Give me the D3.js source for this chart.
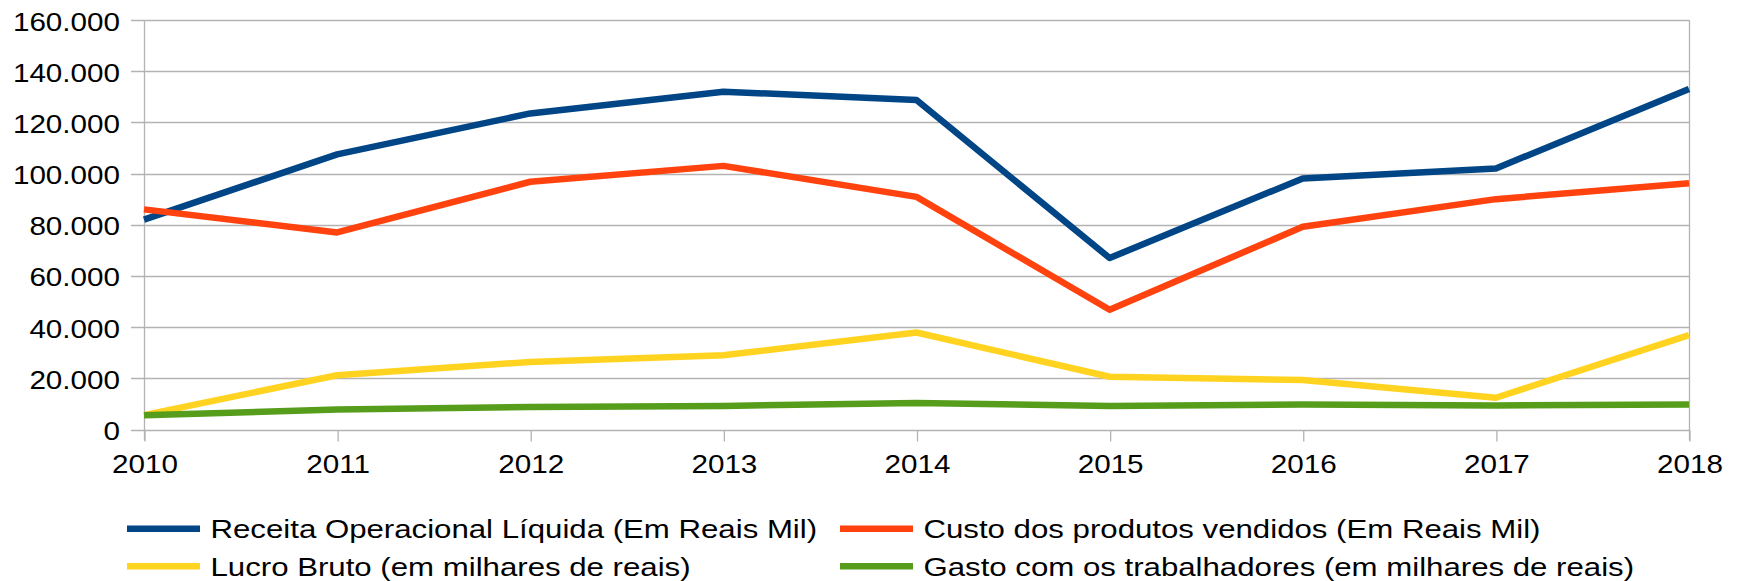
<!DOCTYPE html>
<html>
<head>
<meta charset="utf-8">
<script src="https://cdn.jsdelivr.net/npm/d3@7"></script>
<style>
  body { margin: 0; background: #fff; }
  svg { display: block; }
</style>
</head>
<body>
<svg id="chart" width="1740" height="581"></svg>
<script>
// data
const years = ['2010', '2011', '2012', '2013', '2014', '2015', '2016', '2017', '2018'];
const receita = [82000, 107500, 123500, 132000, 128700, 67000, 98100, 102000, 133000];
const custo = [86000, 77000, 96800, 103000, 90900, 46800, 79200, 90000, 96200];
const lucro = [5600, 21200, 26400, 29000, 37900, 20600, 19300, 12400, 36900];
const gasto = [5600, 7800, 8800, 9200, 10400, 9200, 9800, 9400, 9800];
const yTicks = [0, 20000, 40000, 60000, 80000, 100000, 120000, 140000, 160000];

const series = [
  { name: 'Receita Operacional Líquida (Em Reais Mil)', values: receita, color: '#004586' },
  { name: 'Custo dos produtos vendidos (Em Reais Mil)', values: custo, color: '#ff420e' },
  { name: 'Lucro Bruto (em milhares de reais)', values: lucro, color: '#ffd320' },
  { name: 'Gasto com os trabalhadores (em milhares de reais)', values: gasto, color: '#579d1c' },
];

const plotLeft = 144, plotRight = 1689, plotTop = 20, plotBottom = 429.5;
const font = '"Liberation Sans", Arial, sans-serif';
const fontSize = 26;
// the source text is drawn a bit wider than Liberation Sans at the same height
const axisStretch = 1.14;
const legendStretch = 1.2;

const svg = d3.select('#chart');

const x = d3.scalePoint().domain(years).range([plotLeft, plotRight]);
const y = d3.scaleLinear().domain([0, 160000]).range([plotBottom, plotTop]);

const ptBR = d3.formatLocale({ decimal: ',', thousands: '.', grouping: [3], currency: ['R$', ''] });
const fmt = ptBR.format(',d');

// horizontal grid
svg.append('g')
  .selectAll('line')
  .data(yTicks)
  .enter()
  .append('line')
  .attr('x1', plotLeft - 13)
  .attr('x2', plotRight)
  .attr('y1', (d) => Math.round(y(d)) + 0.5)
  .attr('y2', (d) => Math.round(y(d)) + 0.5)
  .attr('stroke', '#b3b3b3')
  .attr('stroke-width', 1.3);

// left axis line and right border
svg.append('line')
  .attr('x1', plotLeft + 0.5).attr('x2', plotLeft + 0.5)
  .attr('y1', plotTop).attr('y2', plotBottom + 11)
  .attr('stroke', '#b3b3b3').attr('stroke-width', 1.3);
svg.append('line')
  .attr('x1', plotRight + 0.5).attr('x2', plotRight + 0.5)
  .attr('y1', plotTop).attr('y2', plotBottom + 11)
  .attr('stroke', '#b3b3b3').attr('stroke-width', 1.3);

// x axis ticks + labels
const xAxis = d3.axisBottom(x).tickSizeInner(11).tickSizeOuter(0).tickPadding(13.5);
const gx = svg.append('g')
  .attr('transform', `translate(0.5,${Math.round(plotBottom) + 0.5})`)
  .call(xAxis);
gx.select('.domain').remove();
gx.selectAll('.tick line').attr('stroke', '#b3b3b3').attr('stroke-width', 1.3);
gx.selectAll('.tick text')
  .attr('font-family', font)
  .attr('font-size', fontSize)
  .attr('fill', '#000')
  .attr('transform', `scale(${axisStretch},1)`);

// y axis labels
const yPad = 24;
const yAxis = d3.axisLeft(y).tickValues(yTicks).tickFormat(fmt).tickSize(0).tickPadding(yPad);
const gy = svg.append('g')
  .attr('transform', `translate(${plotLeft},0)`)
  .call(yAxis);
gy.select('.domain').remove();
gy.selectAll('.tick text')
  .attr('font-family', font)
  .attr('font-size', fontSize)
  .attr('dy', '0.385em')
  .attr('fill', '#000')
  .attr('transform', `translate(${-yPad},0) scale(${axisStretch},1) translate(${yPad},0)`);

// lines
const line = d3.line()
  .x((d, i) => x(years[i]))
  .y((d) => y(d));

svg.append('g')
  .selectAll('path')
  .data(series)
  .enter()
  .append('path')
  .attr('d', (s) => line(s.values))
  .attr('fill', 'none')
  .attr('stroke', (s) => s.color)
  .attr('stroke-width', 6.5)
  .attr('stroke-linejoin', 'round');

// legend, two columns
const legendCols = [127, 840];
const legendRows = [528.7, 566.3];
const legend = svg.append('g')
  .selectAll('g')
  .data(series)
  .enter()
  .append('g')
  .attr('transform', (s, i) => `translate(${legendCols[i % 2]},${legendRows[Math.floor(i / 2)]})`);

legend.append('line')
  .attr('x1', 0).attr('x2', 73)
  .attr('y1', 0).attr('y2', 0)
  .attr('stroke', (s) => s.color)
  .attr('stroke-width', 6.5);

legend.append('text')
  .text((s) => s.name)
  .attr('x', 83.5)
  .attr('dy', '0.36em')
  .attr('font-family', font)
  .attr('font-size', fontSize)
  .attr('fill', '#000')
  .attr('transform', `translate(83.5,0) scale(${legendStretch},1) translate(-83.5,0)`);
</script>
</body>
</html>
